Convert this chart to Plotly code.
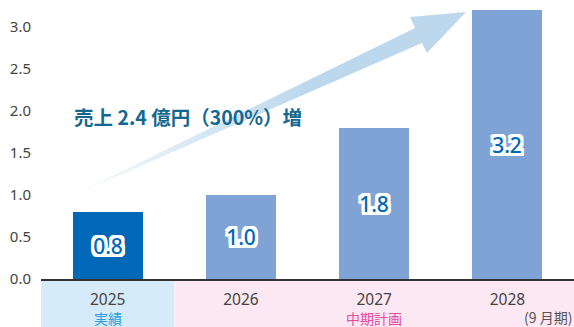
import plotly.graph_objects as go

# Sales (100 million yen) by fiscal year
years = ["2025", "2026", "2027", "2028"]
sales = [0.8, 1.0, 1.8, 3.2]
bar_colors = ["#0068b7", "#7fa3d5", "#7fa3d5", "#7fa3d5"]
y_ticks = [0.0, 0.5, 1.0, 1.5, 2.0, 2.5, 3.0]
headline = "売上 2.4 億円（300%）増"
band_actual = "実績"
band_plan = "中期計画"
period_note = "(9 月期)"

x_pos = list(range(len(years)))

# Pixel geometry of the plot area, used to place the decorative growth arrow
W, H = 574, 327
ML, MR, MT, MB = 41, 0, 6, 48
X_RANGE = [-0.5, 3.5]
Y_RANGE = [0, 3.25]
pw, ph = W - ML - MR, H - MT - MB


def px_to_data(px, py):
    x = X_RANGE[0] + (px - ML) / pw * (X_RANGE[1] - X_RANGE[0])
    y = Y_RANGE[0] + (H - MB - py) / ph * (Y_RANGE[1] - Y_RANGE[0])
    return x, y


# Arrow outline: tail, shaft top, head back, tip, head back, shaft bottom
arrow_px = [(63, 200), (415, 28), (410, 17), (466, 12), (427, 53), (422, 43), (63, 200)]
arrow = [px_to_data(px, py) for px, py in arrow_px]

fig = go.Figure()

fig.add_trace(go.Scatter(
    x=[p[0] for p in arrow], y=[p[1] for p in arrow],
    mode="lines", fill="toself", line=dict(width=0, color="rgba(0,0,0,0)"),
    fillgradient=dict(
        type="horizontal",
        colorscale=[
            [0.0, "rgba(189,216,237,0)"],
            [0.3, "rgba(189,216,237,0.55)"],
            [0.6, "rgba(189,216,237,1)"],
            [1.0, "rgba(189,216,237,1)"],
        ],
    ),
    hoverinfo="skip", showlegend=False,
))

outline = ", ".join(
    f"{dx}px {dy}px 0 #fff"
    for dx in (-3, -2, 0, 2, 3) for dy in (-3, -2, 0, 2, 3)
    if (dx, dy) != (0, 0)
)

fig.add_trace(go.Bar(
    x=x_pos, y=sales, width=0.525,
    marker=dict(color=bar_colors, line=dict(width=0)),
    texttemplate="%{y:.1f}", textposition="inside", insidetextanchor="middle",
    textangle=0, constraintext="none",
    textfont=dict(family="Noto Sans", size=21, color="#0068b7", weight=500, shadow=outline),
    hoverinfo="skip", showlegend=False,
))

# Category bands below the axis
fig.add_shape(type="rect", xref="x", yref="paper", x0=-0.5, x1=0.5, y0=-MB / ph, y1=-1 / ph,
              fillcolor="#d5ebf9", line=dict(width=0), layer="below")
fig.add_shape(type="rect", xref="x", yref="paper", x0=0.5, x1=3.5, y0=-MB / ph, y1=-1 / ph,
              fillcolor="#fce8f2", line=dict(width=0), layer="below")

fig.add_annotation(x=0, y=-39 / ph, xref="x", yref="paper", text=band_actual, showarrow=False,
                   font=dict(family="Noto Sans CJK JP", size=14, color="#2aa0dc"), yanchor="middle")
fig.add_annotation(x=2, y=-39 / ph, xref="x", yref="paper", text=band_plan, showarrow=False,
                   font=dict(family="Noto Sans CJK JP", size=14, color="#e8489a"), yanchor="middle")
fig.add_annotation(x=1, y=-38 / ph, xref="paper", yref="paper", text=period_note, showarrow=False,
                   xanchor="right", yanchor="middle",
                   font=dict(family="Noto Sans CJK JP", size=14, color="#555555"))

hx, hy = px_to_data(72, 116)
fig.add_annotation(x=hx, y=hy, xref="x", yref="y", text=f"<b>{headline}</b>", showarrow=False,
                   xanchor="left", yanchor="middle",
                   font=dict(family="Noto Sans CJK JP", size=19.5, color="#146890"))

fig.update_layout(
    width=W, height=H,
    margin=dict(l=ML, r=MR, t=MT, b=MB, pad=0),
    plot_bgcolor="white", paper_bgcolor="white",
    bargap=0,
    xaxis=dict(
        range=X_RANGE, tickvals=x_pos, ticktext=years,
        showgrid=False, zeroline=False, showline=True, linecolor="#333333", linewidth=2,
        ticks="", ticklabelstandoff=5,
        tickfont=dict(family="Noto Sans", size=15.5, color="#444444"),
    ),
    yaxis=dict(
        range=Y_RANGE, tickvals=y_ticks, tickformat=".1f",
        showgrid=False, zeroline=False, showline=False, ticks="",
        ticklabelstandoff=9,
        tickfont=dict(family="Noto Sans", size=15, color="#444444"),
    ),
)

fig.write_html("out.html")
